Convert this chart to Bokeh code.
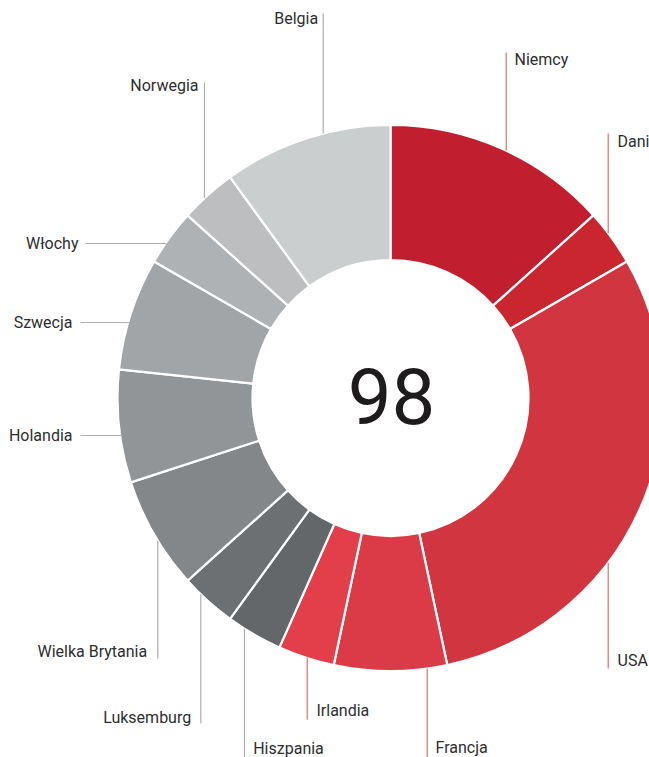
import numpy as np
from bokeh.plotting import figure
from bokeh.models import Range1d, ColumnDataSource
from bokeh.core.properties import value
from bokeh.embed import file_html
from bokeh.resources import INLINE

# ---- data ----
countries = ["Niemcy", "Dania", "USA", "Francja", "Irlandia", "Hiszpania",
             "Luksemburg", "Wielka Brytania", "Holandia", "Szwecja", "Włochy",
             "Norwegia", "Belgia"]
values = [4, 1, 9, 2, 1, 1, 1, 2, 2, 2, 1, 1, 3]
center_label = "98"

# ---- styles ----
colors = ["#C11F2F", "#C9262F", "#D1353F", "#DA3B47", "#E23F4B", "#636769",
          "#6C7072", "#84878A", "#929597", "#A2A5A7", "#AFB2B4", "#BCBEC0",
          "#CBCECF"]
reds = {"Niemcy", "Dania", "USA", "Francja", "Irlandia"}
FONT = "Roboto"

W, H = 649, 757
CX, CY = 390, 397.5          # page-pixel centre of the ring
R_OUT, R_IN = 273, 138

def yd(Y):
    return H - Y

# layout of the leader labels (page pixel coords): kind, leader coord, end, text pos, align
layout = {
    "Niemcy":          ("v", 505.7, "top", 52, 514, 59, "left"),
    "Dania":           ("v", 607.7, "top", 133, 617, 141, "left"),
    "USA":             ("v", 607.7, "bot", 668, 617, 660, "left"),
    "Francja":         ("v", 426.7, "bot", 757, 435, 747, "left"),
    "Irlandia":        ("v", 306.7, "bot", 719, 316, 710, "left"),
    "Hiszpania":       ("v", 244.0, "bot", 757, 252.7, 748, "left"),
    "Luksemburg":      ("v", 200.3, "bot", 723, 190.7, 717, "right"),
    "Wielka Brytania": ("v", 157.3, "bot", 658, 146.7, 651, "right"),
    "Holandia":        ("h", 435, "left", 80, 72, 435, "right"),
    "Szwecja":         ("h", 322, "left", 80, 72, 322, "right"),
    "Włochy":          ("h", 243, "left", 85, 78, 243, "right"),
    "Norwegia":        ("v", 204.0, "top", 82, 198, 85, "right"),
    "Belgia":          ("v", 322.7, "top", 13, 317.7, 18, "right"),
}

p = figure(width=W, height=H, output_backend="svg", toolbar_location=None,
           x_range=Range1d(0, W), y_range=Range1d(0, H),
           min_border=0, min_border_left=0, min_border_right=0,
           min_border_top=0, min_border_bottom=0)
p.axis.visible = False
p.grid.visible = False
p.outline_line_color = None
p.background_fill_color = "white"
p.border_fill_color = "white"

vals = np.array(values, dtype=float)
cum = np.cumsum(vals)
theta_end = cum / vals.sum() * 2 * np.pi
theta_start = np.concatenate([[0.0], theta_end[:-1]])

src = ColumnDataSource(dict(
    start=list(np.pi / 2 - theta_end),
    end=list(np.pi / 2 - theta_start),
    color=colors,
    name=countries,
))
p.annular_wedge(x=CX, y=yd(CY), inner_radius=R_IN, outer_radius=R_OUT,
                start_angle="start", end_angle="end", fill_color="color",
                line_color="white", line_width=2.2, source=src)

# leader lines + labels
xs, ys, lc = [], [], []
tx, ty, tt, ta = [], [], [], []
for name in countries:
    kind, c, side, end, lx, ly, al = layout[name]
    if kind == "v":
        dy = np.sqrt(R_OUT ** 2 - (c - CX) ** 2)
        Y0 = CY - dy if side == "top" else CY + dy
        xs.append([c, c]); ys.append([yd(Y0), yd(end)])
    else:
        dx = np.sqrt(R_OUT ** 2 - (c - CY) ** 2)
        X0 = CX - dx
        xs.append([X0 + 1, end]); ys.append([yd(c), yd(c)])
    lc.append("#D7736B" if name in reds else "#ABADAF")
    tx.append(lx); ty.append(yd(ly)); tt.append(name); ta.append(al)

p.multi_line(xs=xs, ys=ys, line_color=lc, line_width=1.2)

left = ColumnDataSource(dict(x=[a for a, b in zip(tx, ta) if b == "left"],
                             y=[a for a, b in zip(ty, ta) if b == "left"],
                             t=[a for a, b in zip(tt, ta) if b == "left"]))
right = ColumnDataSource(dict(x=[a for a, b in zip(tx, ta) if b == "right"],
                              y=[a for a, b in zip(ty, ta) if b == "right"],
                              t=[a for a, b in zip(tt, ta) if b == "right"]))
for s, al in ((left, "left"), (right, "right")):
    p.text(x="x", y="y", text="t", source=s, text_align=al, text_baseline="middle",
           text_font=value(FONT), text_font_size="16px", text_color="#2E2E2E")

p.text(x=[CX + 1], y=[yd(395.5)], text=[center_label], text_align="center",
       text_baseline="middle", text_font=value(FONT), text_font_size="78px",
       text_color="#1E1B1C")

open("out.html", "w").write(file_html(p, INLINE))
